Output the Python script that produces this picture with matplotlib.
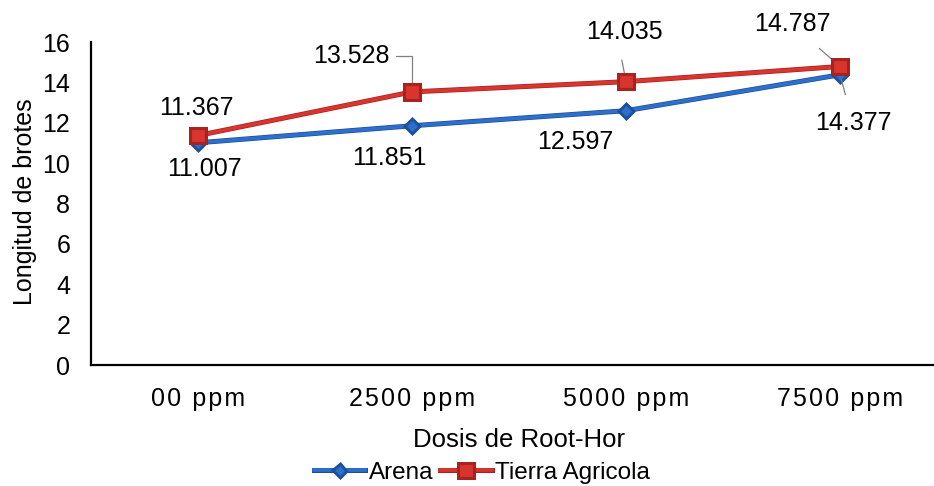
import matplotlib
matplotlib.use("Agg")
import matplotlib.pyplot as plt
import matplotlib.patheffects as pe

plt.rcParams['font.family'] = ['Liberation Sans', 'DejaVu Sans']

categories = ["00 ppm", "2500 ppm", "5000 ppm", "7500 ppm"]
arena = [11.007, 11.851, 12.597, 14.377]
tierra = [11.367, 13.528, 14.035, 14.787]
arena_labels = ["11.007", "11.851", "12.597", "14.377"]
tierra_labels = ["11.367", "13.528", "14.035", "14.787"]

def spaced(s):
    return "\u200a".join(list(s))

fig = plt.figure(figsize=(9.34, 4.86), dpi=100)
ax = fig.add_axes([91/934, 121/486, 856/934, 323/486])

x = list(range(len(categories)))
blue = "#2F6FCC"
red = "#D8352F"
ax.plot(x, arena, color=blue, lw=2.6, marker="D", ms=6.0, mfc=blue, mec="#1F55A8", mew=0.8,
        path_effects=[pe.Stroke(linewidth=3.6, foreground="#1C4E9A"), pe.Normal()], label="Arena", zorder=3)
ax.plot(x, tierra, color=red, lw=2.6, marker="s", ms=9.5, mfc=red, mec="#A82220", mew=0.8,
        path_effects=[pe.Stroke(linewidth=3.6, foreground="#A82220"), pe.Normal()], label="Tierra Agricola", zorder=4)

ax.set_xlim(-0.5, 3.5)
ax.set_ylim(0, 16)
ax.set_yticks(range(0, 17, 2))
ax.set_xticks(x)
ax.set_xticklabels([spaced(c) for c in categories], fontsize=18)
ax.tick_params(axis="both", length=0, colors="black")
ax.tick_params(axis="y", labelsize=18, pad=15)
ax.tick_params(axis="x", pad=16)
for s in ["top", "right"]:
    ax.spines[s].set_visible(False)
for s in ["left", "bottom"]:
    ax.spines[s].set_linewidth(1.6)
    ax.spines[s].set_color("black")

ax.set_xlabel("Dosis de Root-Hor", fontsize=18.5, labelpad=12)
fig.text(25/934, 1 - 202/486, "Longitud de brotes", rotation=90, fontsize=18, ha="center", va="center")

fs = 18
lead = dict(arrowstyle="-", color="#808080", lw=0.9, shrinkA=0, shrinkB=0)
# Arena labels
a_off = [(6, -26), (-23, -32), (-51, -31), (13, -48)]
for i, (v, t, o) in enumerate(zip(arena, arena_labels, a_off)):
    if i == 3:
        ax.annotate(t, (i, v), xytext=o, textcoords="offset pixels", ha="center", va="center", fontsize=fs,
                    arrowprops=dict(lead, shrinkA=10, shrinkB=4))
    else:
        ax.annotate(t, (i, v), xytext=o, textcoords="offset pixels", ha="center", va="center", fontsize=fs)
# Tierra labels
t_off = [(-2, 28), (-61, 36), (-2, 50), (-48, 42)]
for i, (v, t, o) in enumerate(zip(tierra, tierra_labels, t_off)):
    if i == 0:
        ax.annotate(t, (i, v), xytext=o, textcoords="offset pixels", ha="center", va="center", fontsize=fs)
    elif i == 1:
        ax.annotate(t, (i, v), xytext=o, textcoords="offset pixels", ha="center", va="center", fontsize=fs,
                    arrowprops=dict(lead, shrinkA=3, shrinkB=5, relpos=(1.0, 0.5),
                                    connectionstyle="angle,angleA=0,angleB=90,rad=0"))
    elif i == 2:
        ax.annotate(t, (i, v), xytext=o, textcoords="offset pixels", ha="center", va="center", fontsize=fs,
                    arrowprops=dict(lead, shrinkA=10, shrinkB=5, relpos=(0.4, 0.5)))
    else:
        ax.annotate(t, (i, v), xytext=o, textcoords="offset pixels", ha="center", va="center", fontsize=fs,
                    arrowprops=dict(lead, shrinkA=10, shrinkB=5))

leg = fig.legend(loc="center", bbox_to_anchor=(482/934, 1 - 473/486), ncol=2, frameon=False,
                 fontsize=17.5, handlelength=2.1, columnspacing=0.3, handletextpad=0.15)

fig.savefig("out.png", dpi=100)
